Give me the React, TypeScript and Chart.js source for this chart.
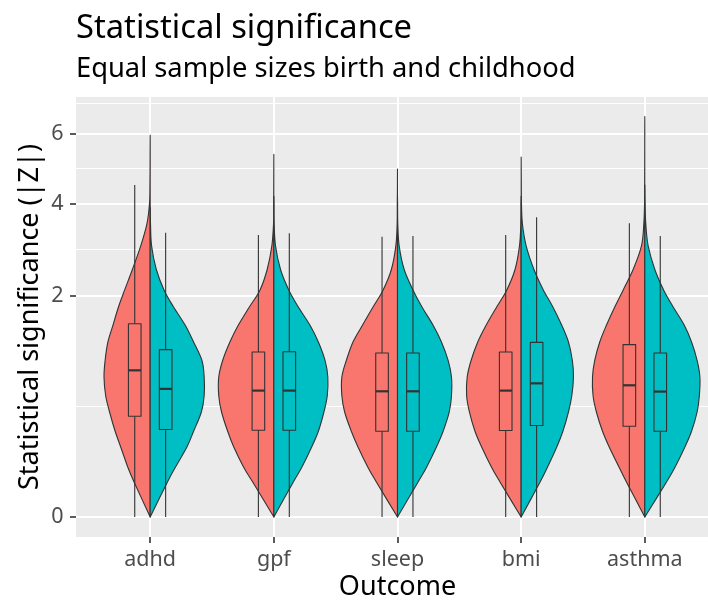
import React, { useEffect, useRef } from "react";
import { Chart, registerables } from "chart.js";

Chart.register(...registerables);

// ---------- data ----------
const categories = ["adhd", "gpf", "sleep", "bmi", "asthma"];
const groupNames = ["birth", "childhood"];
const groupColors = ["#F8766D", "#00BFC4"];

const titleText = "Statistical significance";
const subtitleText = "Equal sample sizes birth and childhood";
const xTitle = "Outcome";
const yTitle = "Statistical significance (|Z|)";

// y axis breaks (sqrt scale); 8 lies beyond the range but shapes the minor grid
const yMajorBreaks = [0, 2, 4, 6];
const yBreakBeyond = 8;
const yDataMax = 6.53;

// |Z| levels at which the violin densities were read
const densityLevels = [0, 0.05, 0.1, 0.2, 0.3, 0.45, 0.6, 0.8, 1.0, 1.25, 1.5, 1.8, 2.1, 2.5, 3.0, 3.5, 4.0, 4.5, 5.0, 5.5, 6.0, 6.5];

// relative violin density (1 = widest) per category
const birthDensity = [
  [0, 0.29, 0.40, 0.53, 0.63, 0.73, 0.80, 0.83, 0.81, 0.76, 0.67, 0.57, 0.46, 0.32, 0.17, 0.06, 0.013, 0.005, 0.003, 0.002, 0, 0],
  [0, 0.38, 0.54, 0.72, 0.83, 0.94, 0.99, 0.99, 0.92, 0.79, 0.64, 0.44, 0.25, 0.12, 0.036, 0.006, 0.003, 0.002, 0.001, 0, 0, 0],
  [0, 0.38, 0.53, 0.71, 0.83, 0.95, 1.0, 1.0, 0.92, 0.80, 0.63, 0.44, 0.26, 0.11, 0.03, 0.006, 0.003, 0.001, 0, 0, 0, 0],
  [0, 0.38, 0.53, 0.71, 0.83, 0.93, 0.98, 0.97, 0.90, 0.78, 0.63, 0.44, 0.26, 0.11, 0.03, 0.006, 0.002, 0, 0, 0, 0, 0],
  [0, 0.33, 0.46, 0.64, 0.76, 0.87, 0.93, 0.94, 0.90, 0.81, 0.69, 0.54, 0.39, 0.21, 0.06, 0.018, 0.005, 0.003, 0.002, 0.001, 0.001, 0],
];
const childhoodDensity = [
  [0, 0.31, 0.45, 0.66, 0.78, 0.92, 0.97, 0.97, 0.93, 0.78, 0.63, 0.42, 0.25, 0.11, 0.025, 0.006, 0, 0, 0, 0, 0, 0],
  [0, 0.35, 0.50, 0.68, 0.80, 0.90, 0.96, 0.97, 0.92, 0.80, 0.65, 0.44, 0.27, 0.12, 0.03, 0.006, 0.002, 0, 0, 0, 0, 0],
  [0, 0.37, 0.52, 0.70, 0.82, 0.93, 0.97, 0.97, 0.91, 0.79, 0.64, 0.44, 0.28, 0.12, 0.03, 0.006, 0.002, 0, 0, 0, 0, 0],
  [0, 0.34, 0.47, 0.64, 0.75, 0.85, 0.91, 0.94, 0.92, 0.85, 0.73, 0.57, 0.40, 0.23, 0.09, 0.023, 0.006, 0.003, 0.001, 0, 0, 0],
  [0, 0.39, 0.54, 0.72, 0.84, 0.94, 0.98, 0.99, 0.94, 0.84, 0.71, 0.51, 0.34, 0.18, 0.06, 0.018, 0.005, 0, 0, 0, 0, 0],
];
const birthMax = [5.95, 5.37, 4.94, 4.2, 6.53];
const childhoodMax = [3.9, 4.2, 4.2, 5.29, 4.5];

// boxplot statistics
const birthLow = [0, 0, 0, 0, 0];
const birthQ1 = [0.414, 0.3075, 0.3, 0.305, 0.336];
const birthMedian = [0.878, 0.652, 0.645, 0.652, 0.708];
const birthQ3 = [1.524, 1.111, 1.098, 1.111, 1.212];
const birthHigh = [4.5, 3.246, 3.207, 3.246, 3.521];

const childhoodLow = [0, 0, 0, 0, 0];
const childhoodQ1 = [0.3125, 0.3075, 0.3, 0.3416, 0.3];
const childhoodMedian = [0.67, 0.652, 0.645, 0.729, 0.642];
const childhoodQ3 = [1.143, 1.114, 1.098, 1.244, 1.098];
const childhoodHigh = [3.3, 3.286, 3.22, 3.666, 3.22];

// ---------- chart ----------
const FONT = '"Noto Sans", "Open Sans", sans-serif';
const tr = (v: number) => Math.sqrt(Math.max(0, v));

export default function App() {
  const ref = useRef<HTMLCanvasElement>(null);

  useEffect(() => {
    const canvas = ref.current!;
    const breaksT = [...yMajorBreaks, yBreakBeyond].map(tr);
    const minorT = breaksT.slice(0, -1).map((b, i) => (b + breaksT[i + 1]) / 2);
    const yTicks = [
      ...yMajorBreaks.map((v) => ({ value: tr(v), lbl: String(v), minor: false })),
      ...minorT.map((v) => ({ value: v, lbl: "", minor: true })),
    ].sort((a, b) => a.value - b.value);
    const tMax = tr(yDataMax);
    const yMin = -0.05 * tMax;
    const yMax = tMax * 1.05;

    const groups = [
      { dens: birthDensity, max: birthMax, low: birthLow, q1: birthQ1, med: birthMedian, q3: birthQ3, high: birthHigh, side: -1, color: groupColors[0], name: groupNames[0] },
      { dens: childhoodDensity, max: childhoodMax, low: childhoodLow, q1: childhoodQ1, med: childhoodMedian, q3: childhoodQ3, high: childhoodHigh, side: 1, color: groupColors[1], name: groupNames[1] },
    ];

    const plugin = {
      id: "splitViolins",
      beforeDraw(chart: any) {
        const { ctx, chartArea: a } = chart;
        ctx.save();
        ctx.fillStyle = "#FFFFFF";
        ctx.fillRect(0, 0, chart.width, chart.height);
        ctx.fillStyle = "#EBEBEB";
        ctx.fillRect(a.left, a.top, a.right - a.left, a.bottom - a.top);
        ctx.restore();
      },
      afterDatasetsDraw(chart: any) {
        const { ctx, chartArea: a } = chart;
        const xs = chart.scales.x;
        const ys = chart.scales.y;
        const py = (v: number) => ys.getPixelForValue(tr(v));
        ctx.save();
        ctx.beginPath();
        ctx.rect(a.left, a.top, a.right - a.left, a.bottom - a.top);
        ctx.clip();
        ctx.lineJoin = "round";
        categories.forEach((_, ci) => {
          const cx = xs.getPixelForValue(ci + 1);
          groups.forEach((g) => {
            const pts: [number, number][] = [];
            const d = g.dens[ci];
            const mx = g.max[ci];
            densityLevels.forEach((lv, li) => {
              if (lv < mx) {
                const w = (d[li] || 0) * 0.45;
                pts.push([xs.getPixelForValue(ci + 1 + g.side * w), py(lv)]);
              }
            });
            pts.push([cx, py(mx)]);
            ctx.beginPath();
            ctx.moveTo(cx, py(0));
            ctx.lineTo(pts[0][0], pts[0][1]);
            for (let i = 0; i < pts.length - 1; i++) {
              const p0 = pts[Math.max(0, i - 1)];
              const p1 = pts[i];
              const p2 = pts[i + 1];
              const p3 = pts[Math.min(pts.length - 1, i + 2)];
              const c1x = p1[0] + (p2[0] - p0[0]) / 6;
              const c1y = p1[1] + (p2[1] - p0[1]) / 6;
              const c2x = p2[0] - (p3[0] - p1[0]) / 6;
              const c2y = p2[1] - (p3[1] - p1[1]) / 6;
              ctx.bezierCurveTo(c1x, c1y, c2x, c2y, p2[0], p2[1]);
            }
            ctx.lineTo(cx, py(0));
            ctx.closePath();
            ctx.fillStyle = g.color;
            ctx.fill();
            ctx.strokeStyle = "#333333";
            ctx.lineWidth = 1.1;
            ctx.stroke();
          });
          groups.forEach((g) => {
            const bx = ci + 1 + g.side * 0.125;
            const xl = xs.getPixelForValue(bx - 0.051);
            const xr = xs.getPixelForValue(bx + 0.051);
            const xc = xs.getPixelForValue(bx);
            const yq1 = py(g.q1[ci]);
            const yq3 = py(g.q3[ci]);
            ctx.strokeStyle = "#333333";
            ctx.lineWidth = 1.1;
            ctx.beginPath();
            ctx.moveTo(xc, py(g.high[ci]));
            ctx.lineTo(xc, yq3);
            ctx.moveTo(xc, yq1);
            ctx.lineTo(xc, py(g.low[ci]));
            ctx.stroke();
            ctx.fillStyle = g.color;
            ctx.fillRect(xl, yq3, xr - xl, yq1 - yq3);
            ctx.strokeRect(xl, yq3, xr - xl, yq1 - yq3);
            ctx.lineWidth = 2.2;
            ctx.beginPath();
            ctx.moveTo(xl, py(g.med[ci]));
            ctx.lineTo(xr, py(g.med[ci]));
            ctx.stroke();
          });
        });
        ctx.restore();
      },
      afterDraw(chart: any) {
        const { ctx, chartArea: a } = chart;
        ctx.save();
        ctx.fillStyle = "#000000";
        ctx.textAlign = "left";
        ctx.textBaseline = "alphabetic";
        ctx.font = `32.7px ${FONT}`;
        ctx.fillText(titleText, a.left, 38);
        ctx.font = `27.3px ${FONT}`;
        ctx.fillText(subtitleText, a.left, 77);
        ctx.restore();
      },
    };

    const chart = new Chart(canvas, {
      type: "scatter",
      data: { datasets: [] },
      options: {
        animation: false,
        responsive: false,
        devicePixelRatio: 1,
        layout: { padding: { top: 97, right: 8, bottom: 0, left: 0 } },
        plugins: { legend: { display: false }, tooltip: { enabled: false }, title: { display: false } },
        scales: {
          x: {
            type: "linear",
            position: "bottom",
            min: 0.4,
            max: categories.length + 0.6,
            afterBuildTicks: (s: any) => {
              s.ticks = categories.map((_, i) => ({ value: i + 1 }));
            },
            afterFit: (s: any) => {
              s.height = 68;
            },
            ticks: {
              autoSkip: false,
              maxRotation: 0,
              padding: 4,
              color: "#4D4D4D",
              font: { family: FONT, size: 21.5 },
              callback: (_v: any, i: number) => categories[i],
            },
            grid: { color: "#FFFFFF", lineWidth: 2, tickColor: "#333333", tickLength: 6, tickWidth: 1.6 },
            border: { display: false },
            title: { display: true, text: xTitle, color: "#000000", font: { family: FONT, size: 27 }, padding: { top: 0, bottom: 1 } },
          },
          y: {
            type: "linear",
            position: "left",
            min: yMin,
            max: yMax,
            afterBuildTicks: (s: any) => {
              s.ticks = yTicks.map((t) => ({ ...t }));
            },
            afterFit: (s: any) => {
              s.width = 76;
            },
            ticks: {
              autoSkip: false,
              padding: 6.5,
              color: "#4D4D4D",
              font: { family: FONT, size: 21.5 },
              callback: (_v: any, i: number, ticks: any[]) => ticks[i].lbl,
            },
            grid: {
              color: "#FFFFFF",
              lineWidth: (c: any) => (c.tick && c.tick.minor ? 1 : 2),
              tickColor: (c: any) => (c.tick && c.tick.minor ? "rgba(0,0,0,0)" : "#333333"),
              tickLength: 6,
              tickWidth: 1.6,
            },
            border: { display: false },
            title: { display: true, text: yTitle, color: "#000000", font: { family: FONT, size: 27 }, padding: { top: 14.5, bottom: 0 } },
          },
        },
      },
      plugins: [plugin],
    } as any);

    return () => chart.destroy();
  }, []);

  return (
    <div style={{ position: "absolute", left: 0, top: 0, width: 708, height: 605, overflow: "hidden", background: "#FFFFFF" }}>
      <canvas ref={ref} width={727} height={605} style={{ display: "block" }} />
    </div>
  );
}
